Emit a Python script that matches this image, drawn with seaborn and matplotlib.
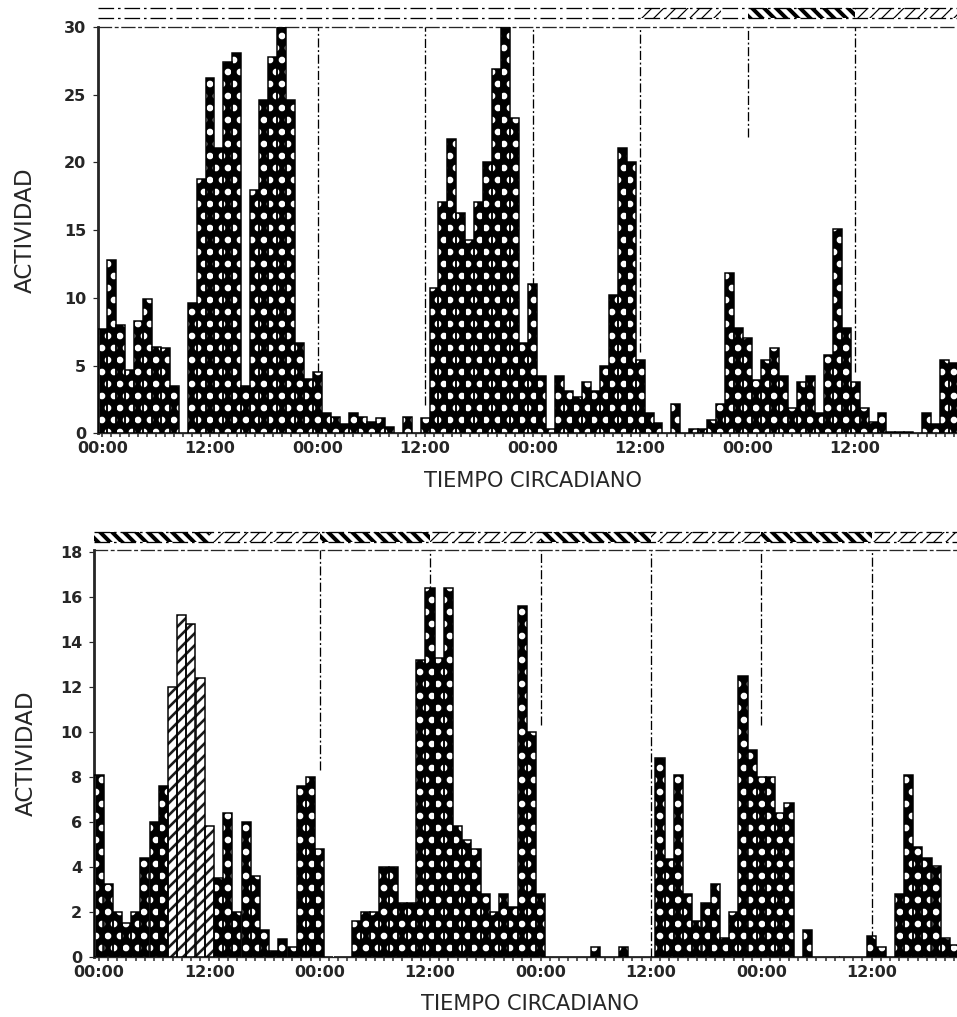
import matplotlib
matplotlib.use("Agg")
import matplotlib.pyplot as plt
import pandas as pd
import seaborn as sns

# ---- hourly activity, first recording (circadian hours 0..95) ----
horas_a = list(range(96))
actividad_a = [7.7, 12.8, 8.0, 4.7, 8.3, 9.9, 6.4, 6.3, 3.5, 0.0,
               9.6, 18.8, 26.2, 21.1, 27.4, 28.1, 3.5, 18.0, 24.6, 27.8,
               30.0, 24.6, 6.7, 4.0, 4.5, 1.5, 1.2, 0.7, 1.5, 1.2,
               0.8, 1.1, 0.5, 0.0, 1.2, 0.0, 1.1, 10.7, 17.1, 21.7,
               16.3, 14.3, 17.1, 20.0, 26.9, 30.0, 23.3, 6.7, 11.0, 4.2,
               0.3, 4.2, 3.1, 2.7, 3.8, 3.1, 5.0, 10.2, 21.1, 20.0,
               5.4, 1.5, 0.75, 0.0, 2.2, 0.0, 0.3, 0.3, 1.0, 2.2,
               11.85, 7.8, 7.0, 3.9, 5.4, 6.3, 4.2, 1.9, 3.8, 4.2,
               1.5, 5.8, 15.1, 7.8, 3.8, 1.9, 0.8, 1.5, 0.1, 0.1,
               0.1, 0.0, 1.5, 0.7, 5.4, 5.2]

# ---- hourly activity, second recording (circadian hours 0..93) ----
horas_b = list(range(94))
actividad_b = [8.1, 3.25, 2.0, 1.5, 2.0, 4.4, 6.0, 7.6, 12.0, 15.2,
               14.8, 12.4, 5.8, 3.5, 6.4, 2.0, 6.0, 3.6, 1.2, 0.25,
               0.8, 0.45, 7.6, 8.0, 4.8, 0.0, 0.0, 0.0, 1.6, 2.0,
               2.0, 4.0, 4.0, 2.4, 2.4, 13.2, 16.4, 13.3, 16.4, 5.8,
               5.2, 4.8, 2.8, 2.0, 2.8, 2.2, 15.6, 10.0, 2.8, 0.0,
               0.0, 0.0, 0.0, 0.0, 0.45, 0.0, 0.0, 0.45, 0.0, 0.0,
               0.0, 8.85, 4.35, 8.1, 2.8, 1.6, 2.4, 3.25, 0.85, 2.0,
               12.5, 9.2, 8.0, 8.0, 6.4, 6.85, 0.0, 1.2, 0.0, 0.0,
               0.0, 0.0, 0.0, 0.0, 0.9, 0.45, 0.0, 2.8, 8.1, 4.9,
               4.4, 4.05, 0.85, 0.5]

# hours whose print came out faded
desvanecidas_a = [9]
desvanecidas_b = [8, 9, 10, 11, 12]

# x tick positions and labels
ticks_horas = [0, 12, 24, 36, 48, 60, 72, 84]
ticks_etiquetas = ["00:00", "12:00", "00:00", "12:00", "00:00", "12:00", "00:00", "12:00"]

# y ticks
yticks_a = [0, 5, 10, 15, 20, 25, 30]
yticks_b = [0, 2, 4, 6, 8, 10, 12, 14, 16, 18]

# light/dark phases on the strip above each panel
fases_a_inicio = [60, 72, 84]
fases_a_fin = [69, 84, 96]
fases_a_tipo = ["luz", "oscuro", "luz"]
fases_b_inicio = [-0.5, 12, 24, 36, 48, 60, 72, 84]
fases_b_fin = [12, 24, 36, 48, 60, 72, 84, 96]
fases_b_tipo = ["oscuro", "luz", "oscuro", "luz", "oscuro", "luz", "oscuro", "luz"]

# dash-dot reference lines every 12 h (hour, lower end as axes fraction)
guias_a_horas = [24, 36, 48, 60, 72, 84]
guias_a_desde = [0.15, 0.07, 0.0, 0.2, 0.73, 0.15]
guias_b_horas = [24, 36, 48, 60, 72, 84]
guias_b_desde = [0.46, 0.0, 0.57, 0.0, 0.57, 0.04]

sns.set_style("ticks")
plt.rcParams["font.family"] = ["DejaVu Sans"]
plt.rcParams["hatch.linewidth"] = 4.2

W, H = 957, 1017
fig = plt.figure(figsize=(W / 72, H / 72), dpi=72)


def px_axes(x0, x1, y_top, y_bot):
    return fig.add_axes([x0 / W, 1 - y_bot / H, (x1 - x0) / W, (y_bot - y_top) / H])


def hatch_lw(patch, lw):
    f = getattr(patch, "set_hatch_linewidth", None)
    if f is not None:
        f(lw)


def panel(ax, horas, valores, desvanecidas, yticks, ymax, xmax, guias_h, guias_d):
    df = pd.DataFrame({"hora": horas, "actividad": valores})
    sns.barplot(data=df, x="hora", y="actividad", native_scale=True, width=1.0,
                errorbar=None, color="black", saturation=1, edgecolor="white",
                linewidth=0, hatch=".", ax=ax, zorder=2)
    for p in list(ax.patches):
        hatch_lw(p, 4.2)
        h = int(round(p.get_x() + p.get_width() / 2))
        if h in desvanecidas:
            p.set_facecolor("white")
            p.set_edgecolor("#1a1a1a")
            p.set_hatch("//")
            hatch_lw(p, 2.6)
    sns.barplot(data=df, x="hora", y="actividad", native_scale=True, width=1.0,
                errorbar=None, color="black", fill=False, linewidth=1.5,
                ax=ax, zorder=3)
    for h, d in zip(guias_h, guias_d):
        ax.axvline(h, ymin=d, ymax=1, color="black", lw=1.3,
                   ls=(0, (7, 2, 1.5, 2)), zorder=1)
    ax.set_xlim(-0.5, xmax)
    ax.set_ylim(0, ymax)
    ax.set_xticks(ticks_horas)
    ax.set_xticklabels(ticks_etiquetas)
    ax.set_xticks([h for h in horas if h % 12 != 0], minor=True)
    ax.set_yticks(yticks)
    ax.tick_params(axis="x", which="major", length=4, width=1.5, pad=4,
                   labelsize=16)
    ax.tick_params(axis="x", which="minor", length=4, width=1.5)
    ax.tick_params(axis="y", length=5, width=1.2, pad=7, labelsize=16)
    for lab in ax.get_xticklabels() + ax.get_yticklabels():
        lab.set_fontweight("bold")
    ax.spines["right"].set_visible(False)
    ax.spines["left"].set_linewidth(2.8)
    ax.spines["bottom"].set_linewidth(1.3)
    ax.spines["top"].set_linewidth(1.3)
    ax.spines["top"].set_linestyle((0, (10, 3, 2, 3)))
    ax.set_ylabel("ACTIVIDAD", fontsize=23)
    ax.set_xlabel("TIEMPO CIRCADIANO", fontsize=21)


def franja(ax, inicio, fin, tipo, xmax):
    ax.set_xlim(-0.5, xmax)
    ax.set_ylim(0, 1)
    ax.axis("off")
    for a, b, t in zip(inicio, fin, tipo):
        if t == "oscuro":
            p = ax.axvspan(a, b, facecolor="white", edgecolor="black",
                           hatch="\\\\", linewidth=0)
            hatch_lw(p, 4.0)
        else:
            p = ax.axvspan(a, b, facecolor="white", edgecolor="black",
                           hatch="//", linewidth=0)
            hatch_lw(p, 1.2)
    for y in (0, 1):
        ax.axhline(y, color="black", lw=1.3, ls=(0, (12, 3, 2, 3)),
                   clip_on=False)


# ---- upper panel ----
xmax_a = (W - 98) / 8.96 - 0.5
ax_a = px_axes(98, W, 27, 433.3)
panel(ax_a, horas_a, actividad_a, desvanecidas_a, yticks_a, 30.0, xmax_a,
      guias_a_horas, guias_a_desde)
ax_a.yaxis.set_label_coords(-0.071, 0.5)
ax_a.xaxis.set_label_coords(0.506, -0.093)
fr_a = px_axes(98, W, 8, 18)
franja(fr_a, fases_a_inicio, fases_a_fin, fases_a_tipo, xmax_a)

# ---- lower panel ----
xmax_b = (W - 94.3) / 9.2 - 0.5
ax_b = px_axes(94.3, W, 550, 956.7)
panel(ax_b, horas_b, actividad_b, desvanecidas_b, yticks_b, 18.1, xmax_b,
      guias_b_horas, guias_b_desde)
ax_b.yaxis.set_label_coords(-0.066, 0.5)
ax_b.xaxis.set_label_coords(0.505, -0.092)
fr_b = px_axes(94.3, W, 532, 542)
franja(fr_b, fases_b_inicio, fases_b_fin, fases_b_tipo, xmax_b)

fig.savefig("out.png", dpi=72)
